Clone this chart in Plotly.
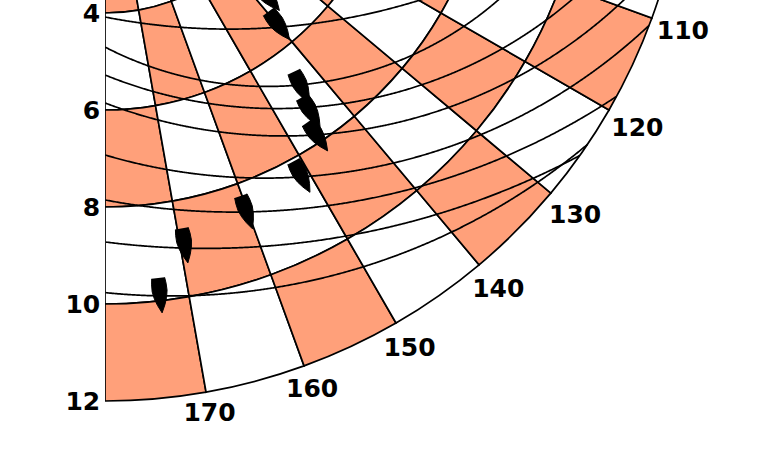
import numpy as np
import plotly.graph_objects as go

# ---------------- data ----------------
ring_inner = [0, 2, 4, 6, 8, 10]           # inner radius of each ring
ring_width = 2
r_max = 12
bin_centers = [175, 165, 155, 145, 135, 125, 115, 105, 95]   # degrees
bin_width = 10
# 1 = salmon, 0 = white  (rows = rings, cols = bins)
pattern = [
    [0, 1, 0, 1, 0, 1, 0, 1, 0],
    [1, 0, 1, 0, 1, 0, 1, 0, 1],
    [0, 1, 0, 1, 0, 1, 0, 1, 0],
    [1, 0, 1, 0, 1, 0, 1, 0, 1],
    [0, 1, 0, 1, 0, 1, 0, 1, 0],
    [1, 0, 1, 0, 1, 0, 1, 0, 1],
]
radial_ticks = [4, 6, 8, 10, 12]
angular_ticks = [110, 120, 130, 140, 150, 160, 170]

# boats: position (theta deg, r) and heading (deg, clockwise from up)
boat_theta = [137.5, 139.9, 143.8, 144.9, 146.2, 151.2, 160.2, 169.4, 173.4]
boat_r = [4.98, 5.57, 6.86, 7.39, 7.88, 8.42, 8.62, 8.95, 9.89]
boat_heading = [140, 143, 154, 149, 145, 152, 160.5, 170, 173.5]

# circular curves: centre (theta, r) and radius, in data units
curve_theta = [15.98, 62.3, 46.07, 44.92, 38.32, 23.38, 15.33, 21.10]
curve_r = [9.287, 3.772, 4.913, 5.195, 5.301, 6.692, 7.885, 3.780]
curve_radius = [13.26, 7.268, 9.379, 10.214, 11.563, 14.247, 16.458, 13.361]

SALMON = "#FFA07A"
PX = 48.5      # px per radial unit (style only: boat outline and label offsets)
FONT = dict(family="DejaVu Sans", size=25, color="black", weight="bold")
TEXT_DROP = 2.9 / PX   # visual centring of bold digits (style)

fig = go.Figure()

# checkerboard cells
for k, r0 in enumerate(ring_inner):
    fig.add_trace(go.Barpolar(
        r=[ring_width] * len(bin_centers),
        base=[r0] * len(bin_centers),
        theta=bin_centers,
        width=[bin_width] * len(bin_centers),
        marker=dict(color=[SALMON if p else "white" for p in pattern[k]],
                    line=dict(color="black", width=1.7)),
        hoverinfo="skip", showlegend=False,
    ))

# circular curves, kept inside the chart (r <= r_max, 90..180 deg)
phi = np.radians(np.linspace(0, 360, 3601))
for ct, cr, rad in zip(curve_theta, curve_r, curve_radius):
    Xc, Yc = cr * np.sin(np.radians(ct)), cr * np.cos(np.radians(ct))
    X = Xc + rad * np.sin(phi)
    Y = Yc + rad * np.cos(phi)
    rr = np.hypot(X, Y)
    tt = np.degrees(np.arctan2(X, Y))
    ok = (rr <= r_max) & (tt >= 90) & (tt <= 180)
    rr = np.where(ok, rr, np.nan)
    tt = np.where(ok, tt, np.nan)
    fig.add_trace(go.Scatterpolar(
        r=rr, theta=tt, mode="lines", line=dict(color="black", width=1.7),
        connectgaps=False, hoverinfo="skip", showlegend=False,
    ))

# boat outline template (px, u from stern to bow, v half width)
tu = np.array([0, 6, 13, 20, 27, 35], float)
tv = np.array([6.5, 7.3, 7.5, 6.2, 3.8, 0.0])
u = (np.concatenate([tu, tu[::-1][1:]]) - 17.5) / PX
v = np.concatenate([tv, -tv[::-1][1:]]) / PX
for th, rr, hd in zip(boat_theta, boat_r, boat_heading):
    t = np.radians(th)
    b = np.radians(hd)
    X0, Y0 = rr * np.sin(t), rr * np.cos(t)
    X = X0 + u * np.sin(b) + v * np.cos(b)
    Y = Y0 + u * np.cos(b) - v * np.sin(b)
    fig.add_trace(go.Scatterpolar(
        r=np.hypot(X, Y), theta=np.degrees(np.arctan2(X, Y)),
        mode="lines", fill="toself", fillcolor="black",
        line=dict(color="black", width=1), hoverinfo="skip", showlegend=False,
    ))

# radial tick labels (left of the 180-degree axis)
fig.add_trace(go.Scatterpolar(
    r=np.array(radial_ticks, float) + TEXT_DROP, theta=[180] * len(radial_ticks),
    text=[str(t) for t in radial_ticks], mode="markers+text",
    marker=dict(size=6, color="rgba(0,0,0,0)"),
    textposition="middle left", textfont=FONT, cliponaxis=False,
    hoverinfo="skip", showlegend=False,
))

# angular tick labels just outside the outer circle
ang = np.radians(angular_ticks)
half_w, half_h, pad = 26, 10.5, 5
lab_r = r_max + (pad + half_w * np.abs(np.sin(ang)) + half_h * np.abs(np.cos(ang))) / PX
LX = lab_r * np.sin(ang)
LY = lab_r * np.cos(ang) - TEXT_DROP
fig.add_trace(go.Scatterpolar(
    r=np.hypot(LX, LY), theta=np.degrees(np.arctan2(LX, LY)),
    text=[str(t) for t in angular_ticks], mode="text",
    textposition="middle center", textfont=FONT, cliponaxis=False,
    hoverinfo="skip", showlegend=False,
))

W, H = 765, 660
SHIFT = 200
R_RANGE = 12.8
cx_px, top_px, R_px = 105, SHIFT - 181, R_RANGE * PX
fig.update_layout(
    width=W, height=H, margin=dict(l=0, r=0, t=0, b=0),
    paper_bgcolor="white", plot_bgcolor="white", showlegend=False,
    polar=dict(
        domain=dict(x=[cx_px / W, (cx_px + R_px) / W],
                    y=[(H - top_px - R_px) / H, (H - top_px) / H]),
        sector=[-90, 0],
        bgcolor="white",
        barmode="overlay",
        radialaxis=dict(range=[0, R_RANGE], showgrid=False, showline=False,
                        ticks="", showticklabels=False, angle=-90),
        angularaxis=dict(rotation=90, direction="clockwise",
                         showgrid=False, showline=False, ticks="",
                         showticklabels=False),
    ),
)

post = ("var gd=document.getElementById('{plot_id}');"
        "gd.style.marginTop='-%dpx';"
        "document.body.style.margin='0';"
        "document.body.style.overflow='hidden';"
        "document.documentElement.style.overflow='hidden';" % SHIFT)
fig.write_html("out.html", post_script=post)
